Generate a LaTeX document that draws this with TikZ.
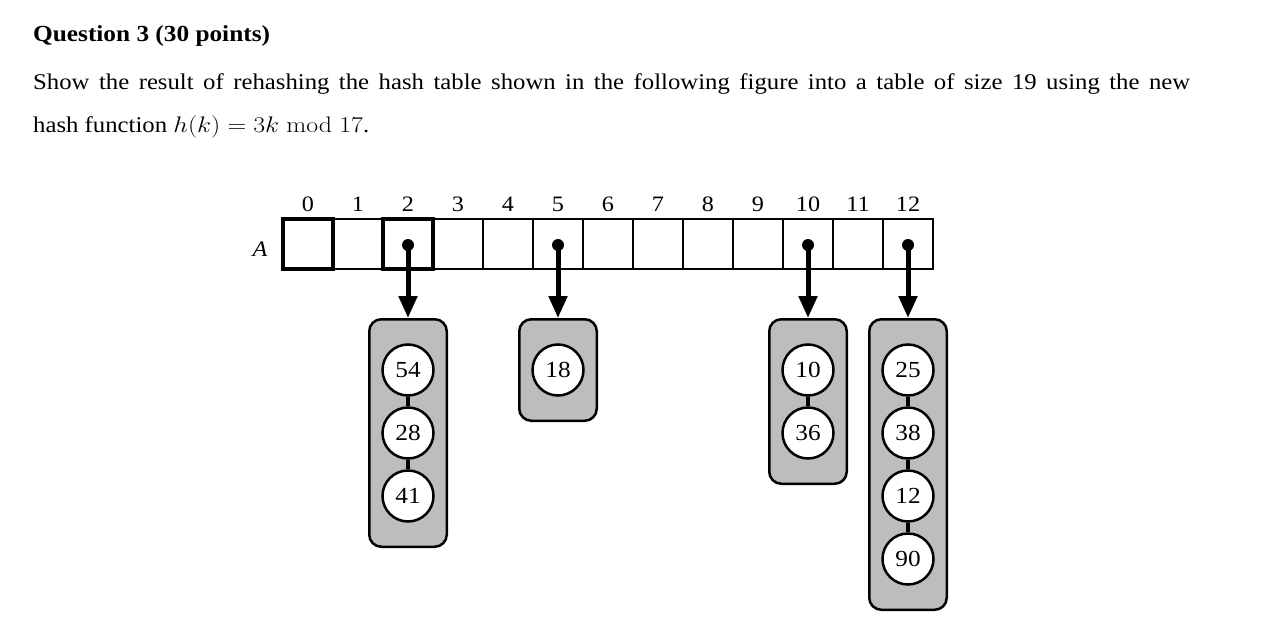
\RequirePackage{fix-cm}
\documentclass[tikz,border=0pt]{standalone}
\usepackage[no-math]{fontspec}
\setmainfont{Liberation Serif}[FakeStretch=1.1]
\usepackage{graphicx}
\usetikzlibrary{arrows.meta,fit,backgrounds}
\definecolor{bucketgray}{RGB}{189,189,189}
\begin{document}
\begin{tikzpicture}[x=1pt,y=-1pt,
  cell/.style={draw, line width=2pt, minimum width=50pt, minimum height=50pt, inner sep=0pt},
  thickcell/.style={cell, line width=3.3pt},
  idx/.style={font=\fontsize{22}{24}\selectfont, inner sep=0pt},
  key/.style={circle, draw, line width=2.5pt, fill=white, minimum size=51pt, inner sep=0pt, font=\fontsize{23}{26}\selectfont},
  bucket/.style={draw, line width=2.5pt, fill=bucketgray, rounded corners=12pt, inner xsep=12pt, inner ysep=24pt},
  ptr/.style={line width=5pt, -{Triangle[length=22pt,width=18pt]}},
  dot/.style={circle, fill=black, minimum size=12pt, inner sep=0pt},
  link/.style={line width=3.3pt},
  txt/.style={anchor=base west, inner sep=0pt, font=\fontsize{22.5}{27}\selectfont}
]
\useasboundingbox (0,0) rectangle (1269,634);

% text
\node[txt, font=\fontsize{23}{27}\selectfont\bfseries] (title) at (33,42) {Question 3 (30 points)};
\node[txt] (line1) at (33,89) {\hbox to 1157pt{Show the result of rehashing the hash table shown in the following figure into a table of size 19 using the new}};
\node[txt] (line2) at (33,132) {hash function \scalebox{1.15}[1]{$h(k) = 3k \bmod 17$}.};

% array cells
\foreach \i in {1,3,4,5,6,7,8,9,10,11,12} {
  \node[cell] (c\i) at ({308+50*\i},244) {};
}
\foreach \i in {0,2} {
  \node[thickcell] (c\i) at ({308+50*\i},244) {};
}
\foreach \i in {0,...,12} {
  \node[idx] (i\i) at ({308+50*\i},204) {\i};
}
\node[font=\fontsize{22}{24}\selectfont\itshape, inner sep=0pt] (A) at (260,249) {A};

% keys
\node[key] (k54) at (408,370) {54};
\node[key] (k28) at (408,433) {28};
\node[key] (k41) at (408,496) {41};
\node[key] (k18) at (558,370) {18};
\node[key] (k10) at (808,370) {10};
\node[key] (k36) at (808,433) {36};
\node[key] (k25) at (908,370) {25};
\node[key] (k38) at (908,433) {38};
\node[key] (k12) at (908,496) {12};
\node[key] (k90) at (908,559) {90};

\draw[link] (k54) -- (k28);
\draw[link] (k28) -- (k41);
\draw[link] (k10) -- (k36);
\draw[link] (k25) -- (k38);
\draw[link] (k38) -- (k12);
\draw[link] (k12) -- (k90);

\begin{scope}[on background layer]
  \node[bucket, fit=(k54)(k41)] (b2) {};
  \node[bucket, fit=(k18)] (b5) {};
  \node[bucket, fit=(k10)(k36)] (b10) {};
  \node[bucket, fit=(k25)(k90)] (b12) {};
\end{scope}

% pointers
\foreach \i in {2,5,10,12} {
  \node[dot] (d\i) at ([yshift=-1pt]c\i.center) {};
  \draw[ptr] (d\i.center) -- (b\i.north);
}
\end{tikzpicture}
\end{document}
